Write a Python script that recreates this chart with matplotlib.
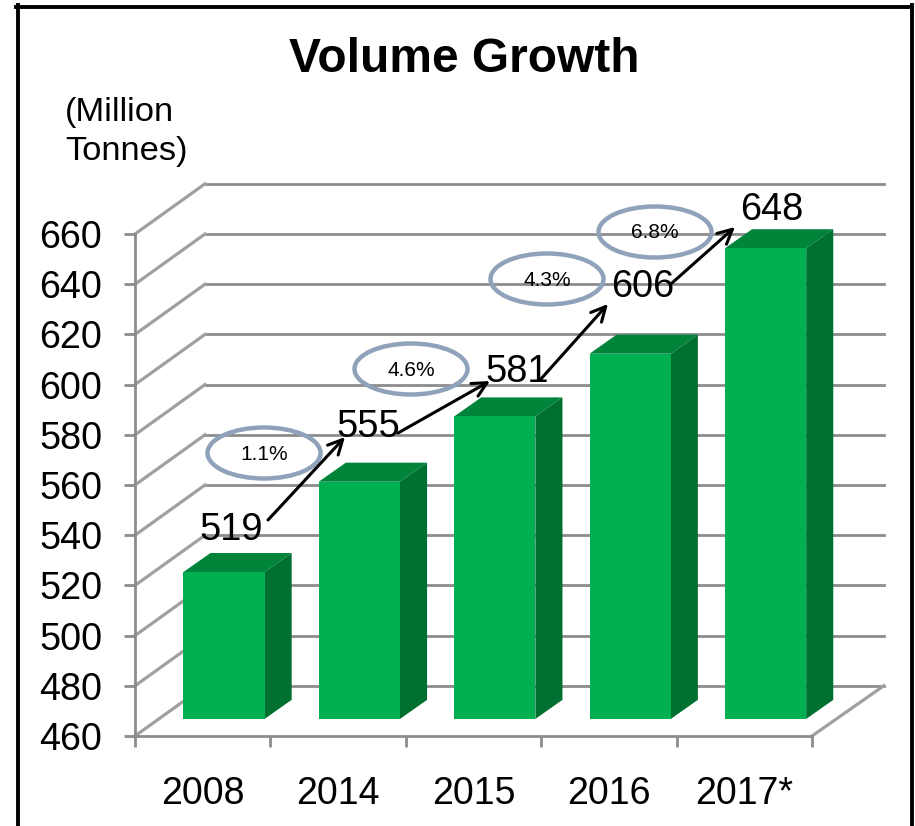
import matplotlib
matplotlib.use('Agg')
import matplotlib.pyplot as plt
from matplotlib.lines import Line2D
from matplotlib.patches import Ellipse, Polygon

anios = ['2008', '2014', '2015', '2016', '2017*']
volumen = [519, 555, 581, 606, 648]
crecimiento = ['1.1%', '4.6%', '4.3%', '6.8%']
ticks_y = [460, 480, 500, 520, 540, 560, 580, 600, 620, 640, 660]

ANCHO, ALTO = 915, 826
plt.rcParams['font.family'] = ['Liberation Sans', 'DejaVu Sans']

fig = plt.figure(figsize=(ANCHO / 100, ALTO / 100), dpi=100)
ax = fig.add_axes([135 / ANCHO, (ALTO - 736) / ALTO, 677 / ANCHO, 502 / ALTO])
ax.set_xlim(0, 5)
ax.set_ylim(460, 660)
ax.patch.set_alpha(0)


def px(x, y):
    # pixel de la imagen a coordenadas de datos
    return (x - 135) / 135.4, 460 + (736 - y) / 2.51


GRIS = '#8c8c8c'
FONDO_X, FONDO_Y = 0.517, 20
FIN_X = 5.53

# pared del fondo y lateral
for v in ticks_y:
    ax.plot([FONDO_X, FIN_X], [v + FONDO_Y, v + FONDO_Y], color=GRIS, lw=2, zorder=1, clip_on=False)
    ax.plot([0, FONDO_X], [v, v + FONDO_Y], color='#a0a0a0', lw=2.3, zorder=1, clip_on=False)
ax.plot([5, FIN_X], [460, 460 + FONDO_Y], color='#a0a0a0', lw=2.3, zorder=1, clip_on=False)

# barras 3D
ANCHO_BARRA = 0.6
OFF_X, OFF_Y = 0.157, 6.3
PROF_X, PROF_Y = 0.2, 7.6
for i, v in enumerate(volumen):
    x0 = i + 0.5 + OFF_X - ANCHO_BARRA / 2
    x1 = x0 + ANCHO_BARRA
    y0 = 460 + OFF_Y + 0.5
    y1 = v + OFF_Y
    ax.add_patch(Polygon([(x0, y1), (x1, y1), (x1 + PROF_X, y1 + PROF_Y), (x0 + PROF_X, y1 + PROF_Y)],
                         facecolor='#00843a', edgecolor='none', zorder=2, clip_on=False))
    ax.add_patch(Polygon([(x1, y0), (x1 + PROF_X, y0 + PROF_Y), (x1 + PROF_X, y1 + PROF_Y), (x1, y1)],
                         facecolor='#007030', edgecolor='none', zorder=2, clip_on=False))
    ax.add_patch(Polygon([(x0, y0), (x1, y0), (x1, y1), (x0, y1)],
                         facecolor='#00b050', edgecolor='none', zorder=3, clip_on=False))

# ejes
for lado in ['top', 'right']:
    ax.spines[lado].set_visible(False)
for lado in ['left', 'bottom']:
    ax.spines[lado].set_color(GRIS)
    ax.spines[lado].set_linewidth(2)
ax.set_yticks(ticks_y)
ax.tick_params(axis='y', length=8, width=2, color=GRIS, pad=15.5, labelsize=27.2)
ax.set_xticks(range(6))
ax.set_xticklabels([])
ax.set_xticks([i + 0.5 for i in range(5)], labels=anios, minor=True)
ax.tick_params(axis='x', which='major', length=8, width=2, color=GRIS)
ax.tick_params(axis='x', which='minor', length=0, pad=29, labelsize=27)

# flechas entre etiquetas
flechas = [((268, 520), (345, 437)), ((398, 433), (490, 381)), ((540, 380), (608, 304)), ((672, 283), (735, 227))]
for ini, fin in flechas:
    ax.annotate('', xy=px(*fin), xytext=px(*ini), zorder=5, annotation_clip=False,
                arrowprops=dict(arrowstyle='->', color='black', lw=2.2, mutation_scale=26,
                                shrinkA=0, shrinkB=0))

# etiquetas de valor
pos_valor = [(231, 530), (368, 427), (517, 372), (643, 287), (772, 210)]
for v, p in zip(volumen, pos_valor):
    x, y = px(*p)
    ax.text(x, y, str(v), fontsize=27.4, ha='center', va='center', color='black', zorder=6, clip_on=False)

# elipses de crecimiento
pos_elipse = [(264, 453), (411, 369), (547, 279), (655, 232)]
for g, p in zip(crecimiento, pos_elipse):
    x, y = px(*p)
    ax.add_patch(Ellipse((x, y), 113 / 135.4, 51 / 2.51, facecolor='none', edgecolor='#8fa2ba',
                         lw=3.2, zorder=4, clip_on=False))
    tx, ty = px(p[0], p[1] + 1)
    ax.text(tx, ty, g, fontsize=15, ha='center', va='center', color='black', zorder=6, clip_on=False)

# titulo y unidades
fig.text(464 / ANCHO, 1 - 59 / ALTO, 'Volume Growth', fontsize=34.5, fontweight='bold', ha='center', va='center')
fig.text(65 / ANCHO, 1 - 132 / ALTO, '(Million\nTonnes)', fontsize=24.8, ha='left', va='center', linespacing=1.36)

# marco negro
marco = dict(color='black', lw=2.8, transform=fig.transFigure)
fig.add_artist(Line2D([17.5 / ANCHO, 17.5 / ANCHO], [0, 1 - 5 / ALTO], **marco))
fig.add_artist(Line2D([16 / ANCHO, 912 / ANCHO], [1 - 6.5 / ALTO, 1 - 6.5 / ALTO], **marco))
fig.add_artist(Line2D([912 / ANCHO, 912 / ANCHO], [0, 1 - 5 / ALTO], **marco))

fig.savefig('out.png', dpi=100)
